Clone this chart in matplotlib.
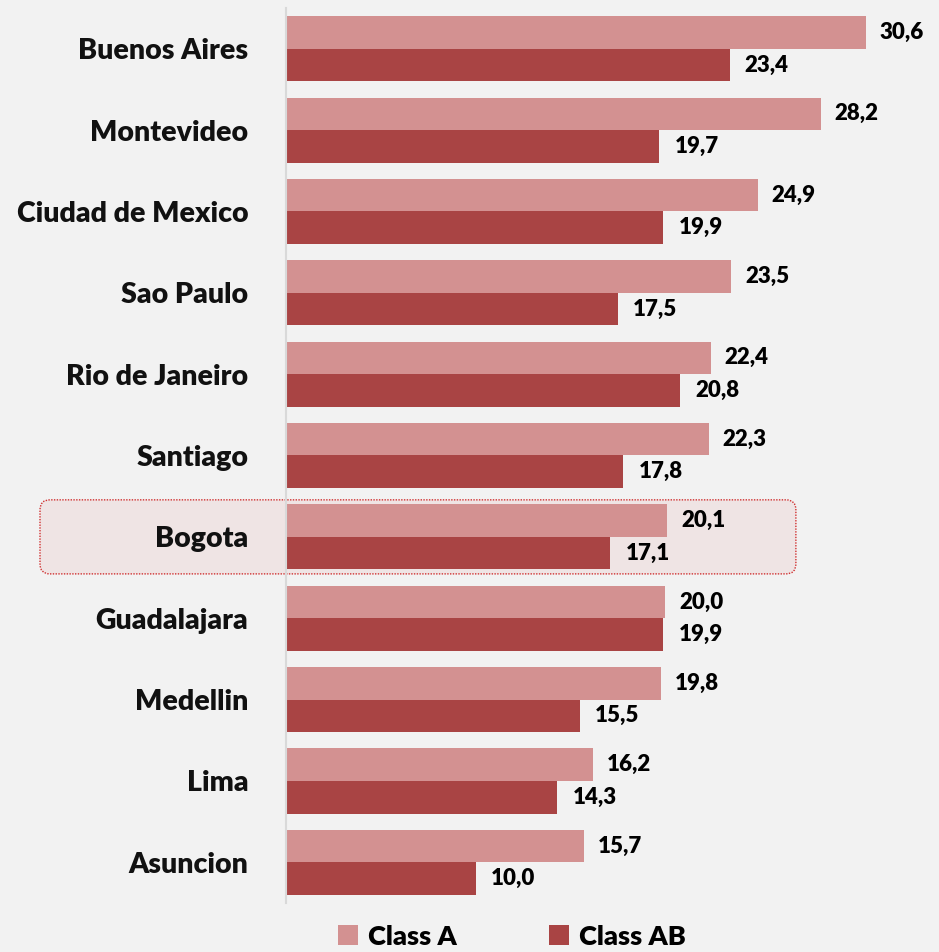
import numpy as np
import matplotlib
matplotlib.use("Agg")
import matplotlib.pyplot as plt
from matplotlib.patches import FancyBboxPatch, Patch
from matplotlib.transforms import IdentityTransform

plt.rcParams['font.family'] = ['Lato', 'DejaVu Sans']
plt.rcParams['font.weight'] = 'heavy'

cities = ['Buenos Aires', 'Montevideo', 'Ciudad de Mexico', 'Sao Paulo',
          'Rio de Janeiro', 'Santiago', 'Bogota', 'Guadalajara', 'Medellin',
          'Lima', 'Asuncion']
class_a = [30.6, 28.2, 24.9, 23.5, 22.4, 22.3, 20.1, 20.0, 19.8, 16.2, 15.7]
class_ab = [23.4, 19.7, 19.9, 17.5, 20.8, 17.8, 17.1, 19.9, 15.5, 14.3, 10.0]
highlight = 'Bogota'

col_a = '#D39191'
col_ab = '#A94444'
bg = '#F2F2F2'

W, H = 939, 952
fig = plt.figure(figsize=(W / 100, H / 100), dpi=100, facecolor=bg)
# ejes en pixeles: izq 286, arriba 8, alto ~895
ax = fig.add_axes([286 / W, 1 - 903 / H, 1 - 286 / W, 895 / H])
ax.set_facecolor('none')

y = np.arange(len(cities))
h = 0.4
ax.barh(y - h / 2, class_a, height=h, color=col_a, label='Class A', zorder=2)
ax.barh(y + h / 2, class_ab, height=h, color=col_ab, label='Class AB', zorder=2)

ax.set_xlim(0, 34.45)
ax.set_ylim(len(cities) - 0.5, -0.5)

def fmt(v):
    return f"{v:.1f}".replace('.', ',')

for i in range(len(cities)):
    ax.annotate(fmt(class_a[i]), (class_a[i], i - h / 2), xytext=(10, 0),
                textcoords='offset points', va='center', ha='left',
                fontsize=16, fontweight='heavy', color='black')
    ax.annotate(fmt(class_ab[i]), (class_ab[i], i + h / 2), xytext=(11, 0),
                textcoords='offset points', va='center', ha='left',
                fontsize=16, fontweight='heavy', color='black')

ax.set_yticks(y)
ax.set_yticklabels(cities, fontsize=20.5, fontweight='heavy', color='#111111')
ax.tick_params(axis='y', length=0, pad=27)
ax.set_xticks([])
for s in ['top', 'right', 'bottom']:
    ax.spines[s].set_visible(False)
ax.spines['left'].set_color('#D9D9D9')
ax.spines['left'].set_linewidth(1.5)

# recuadro de Bogota
fig.canvas.draw()
k = cities.index(highlight)
x0, y0 = ax.transData.transform((0, k + 0.455))
x1, y1 = ax.transData.transform((26.9, k - 0.455))
x0 = 40
box = FancyBboxPatch((x0, y0), x1 - x0, y1 - y0,
                     boxstyle='round,pad=0,rounding_size=10',
                     transform=IdentityTransform(), facecolor='#EFE4E4',
                     edgecolor='#D03030', linestyle=(0, (1, 1)), linewidth=1,
                     zorder=-1)
fig.patches.append(box)

handles = [Patch(facecolor=col_a, label='Class A'),
           Patch(facecolor=col_ab, label='Class AB')]
fig.legend(handles=handles, loc='lower center', bbox_to_anchor=(0.545, -0.022),
           ncol=2, frameon=False, fontsize=19.5, handlelength=0.75,
           handleheight=0.75, handletextpad=0.35, columnspacing=3.4)

fig.savefig('out.png', dpi=100, facecolor=bg)
